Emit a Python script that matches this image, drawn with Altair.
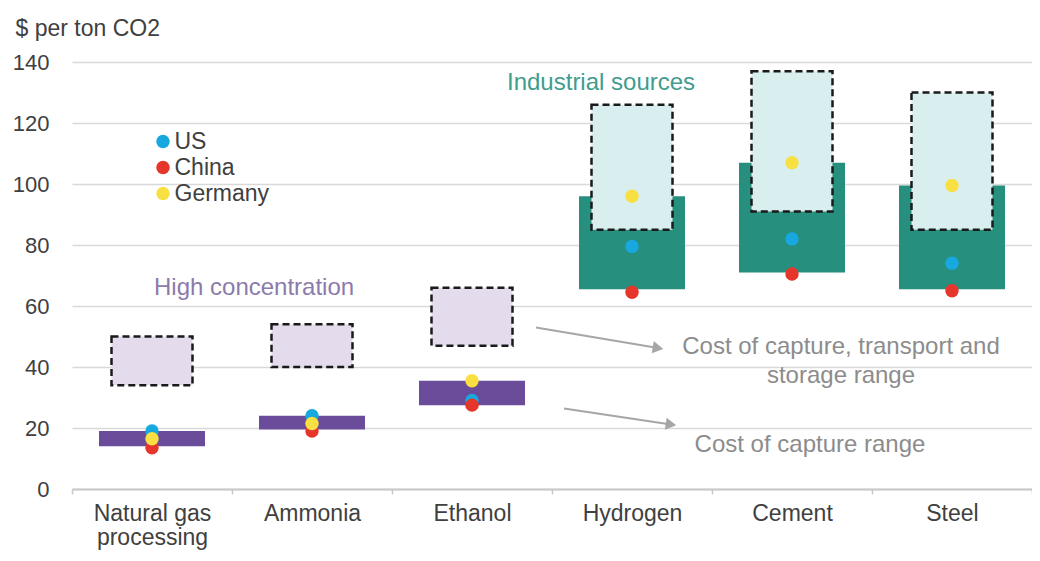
import altair as alt
import pandas as pd

# ---------------- data ----------------
categories = ["Natural gas processing", "Ammonia", "Ethanol", "Hydrogen", "Cement", "Steel"]
groups = ["High concentration"] * 3 + ["Industrial sources"] * 3
capture_low = [14, 19.5, 27.5, 65.5, 71, 65.5]
capture_high = [19, 24, 35.5, 96, 107, 99.5]
total_low = [34, 40, 47, 85, 91, 85]
total_high = [50, 54, 66, 126, 137, 130]

countries = ["US", "China", "Germany"]
us_cost = [19, 24, 29, 79.5, 82, 74]
china_cost = [13.5, 19, 27.5, 64.5, 70.5, 65]
germany_cost = [16.5, 21.5, 35.5, 96, 107, 99.5]

y_ticks = [0, 20, 40, 60, 80, 100, 120, 140]
annotation_texts = [
    "High concentration",
    "Industrial sources",
    "Cost of capture, transport and\nstorage range",
    "Cost of capture range",
]

# ---------------- tables ----------------
ranges = pd.DataFrame({
    "category": categories,
    "group": groups,
    "cap_lo": capture_low,
    "cap_hi": capture_high,
    "tot_lo": total_low,
    "tot_hi": total_high,
})

rows = []
for country, vals in zip(countries, [us_cost, china_cost, germany_cost]):
    for cat, v in zip(categories, vals):
        rows.append({"category": cat, "country": country, "cost": v})
points_df = pd.DataFrame(rows)

FONT = "Liberation Sans"
TXT = "#404040"

x_enc = alt.X(
    "category:N",
    sort=categories,
    title=None,
    scale=alt.Scale(paddingInner=0, paddingOuter=0),
    axis=alt.Axis(
        labelAngle=0,
        labelFont=FONT,
        labelFontSize=23,
        labelColor=TXT,
        labelPadding=8,
        labelLineHeight=24,
        labelExpr="datum.label == 'Natural gas processing' ? ['Natural gas', 'processing'] : datum.label",
        tickBand="extent",
        tickSize=5,
        tickColor="#c8c8c8",
        tickWidth=1.5,
        domainColor="#c8c8c8",
        domainWidth=2,
        grid=False,
    ),
)

y_scale = alt.Scale(domain=[0, 140], nice=False)
y_axis = alt.Axis(
    values=y_ticks,
    labelFont=FONT,
    labelFontSize=22,
    labelColor=TXT,
    labelPadding=23,
    ticks=False,
    domain=False,
    gridColor="#d9d9d9",
    gridWidth=1.5,
    title="$ per ton CO2",
    titleFont=FONT,
    titleFontSize=23,
    titleFontWeight="normal",
    titleColor=TXT,
    titleAngle=0,
    titleAlign="left",
    titleBaseline="alphabetic",
    titleX=-57,
    titleY=-27,
)

bars = alt.Chart(ranges).mark_bar(size=106).encode(
    x=x_enc,
    y=alt.Y("cap_lo:Q", scale=y_scale, axis=y_axis),
    y2="cap_hi:Q",
    color=alt.Color(
        "group:N",
        scale=alt.Scale(domain=["High concentration", "Industrial sources"], range=["#6b4c9a", "#278f7e"]),
        legend=None,
    ),
)

boxes = alt.Chart(ranges).mark_bar(
    size=81, stroke="#1a1a1a", strokeWidth=2.5, strokeDash=[7, 4]
).encode(
    x=alt.X("category:N", sort=categories),
    y="tot_lo:Q",
    y2="tot_hi:Q",
    fill=alt.Fill(
        "group:N",
        scale=alt.Scale(domain=["High concentration", "Industrial sources"], range=["#e4dced", "#d9efef"]),
        legend=None,
    ),
)

dots = alt.Chart(points_df).mark_circle(size=180, opacity=1).encode(
    x=alt.X("category:N", sort=categories),
    y="cost:Q",
    color=alt.Color(
        "country:N",
        sort=countries,
        scale=alt.Scale(domain=countries, range=["#17a8e0", "#e6352b", "#f8e043"]),
        legend=alt.Legend(
            orient="none",
            legendX=79.5,
            legendY=68,
            title=None,
            symbolType="circle",
            symbolSize=180,
            symbolStrokeWidth=0,
            labelFont=FONT,
            labelFontSize=23,
            labelColor=TXT,
            labelOffset=0,
            rowPadding=2,
            padding=0,
        ),
    ),
)


def text_layer(txt, x, y, color, size, align):
    return alt.Chart(pd.DataFrame({"t": [txt]})).mark_text(
        font=FONT, fontSize=size, color=color, align=align,
        baseline="alphabetic", lineBreak="\n", lineHeight=29,
    ).encode(text="t:N", x=alt.value(x), y=alt.value(y))


t1 = text_layer(annotation_texts[0], 82, 233, "#8b7bab", 24, "left")
t2 = text_layer(annotation_texts[1], 435, 28, "#3f9c8e", 24, "left")
t3 = text_layer(annotation_texts[2], 769, 292, "#8c8c8c", 24, "center")
t4 = text_layer(annotation_texts[3], 738, 389.5, "#8c8c8c", 24, "center")

one = pd.DataFrame({"a": [0]})
arrow1 = alt.Chart(one).mark_rule(color="#a6a6a6", strokeWidth=2).encode(
    x=alt.value(464), y=alt.value(265.5), x2=alt.value(586), y2=alt.value(286)
)
head1 = alt.Chart(one).mark_point(
    shape="triangle-right", filled=True, fill="#a6a6a6", opacity=1, size=150, angle=9.5, strokeWidth=0
).encode(x=alt.value(586), y=alt.value(286))
arrow2 = alt.Chart(one).mark_rule(color="#a6a6a6", strokeWidth=2).encode(
    x=alt.value(492), y=alt.value(346.5), x2=alt.value(599), y2=alt.value(362.5)
)
head2 = alt.Chart(one).mark_point(
    shape="triangle-right", filled=True, fill="#a6a6a6", opacity=1, size=150, angle=8.6, strokeWidth=0
).encode(x=alt.value(599), y=alt.value(362.5))

chart = alt.layer(
    bars, boxes, dots, t1, t2, t3, t4, arrow1, head1, arrow2, head2
).resolve_scale(
    color="independent", fill="independent"
).properties(
    width=960,
    height=427,
    autosize=alt.AutoSizeParams(type="none"),
    padding={"left": 64, "top": 54, "right": 0, "bottom": 62},
    background="white",
).configure_view(stroke=None)

chart.save("out.html", embed_options={"renderer": "svg", "actions": False})
